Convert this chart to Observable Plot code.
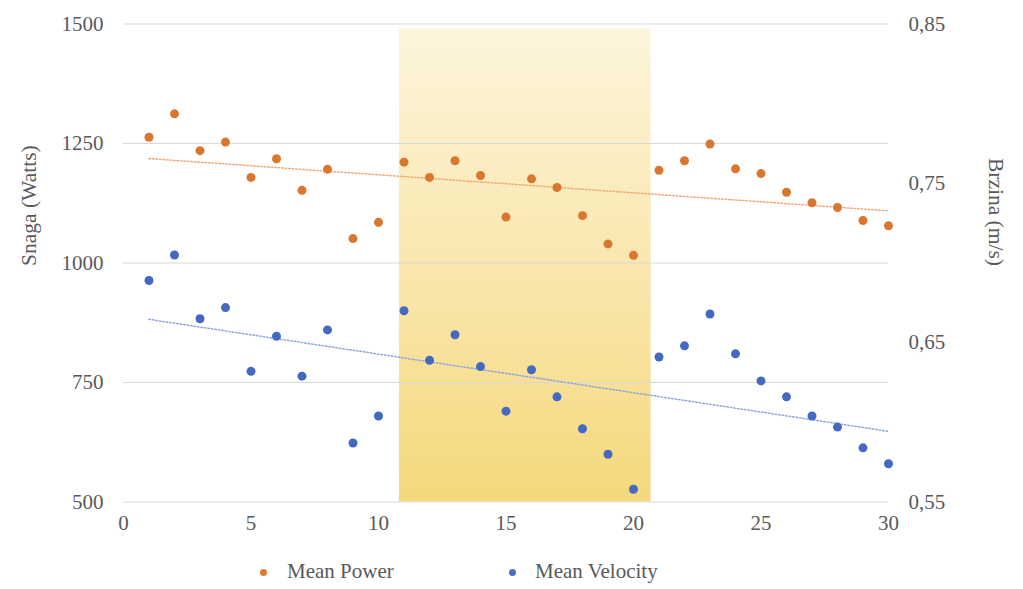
<!DOCTYPE html>
<html>
<head>
<meta charset="utf-8">
<script src="https://cdn.jsdelivr.net/npm/d3@7"></script>
<script src="https://cdn.jsdelivr.net/npm/@observablehq/plot@0.6"></script>
<style>
  html, body { margin: 0; padding: 0; background: #fff; }
  #chart { width: 1023px; }
  .legend { position: relative; width: 1023px; height: 44px; font-family: "Liberation Serif", "DejaVu Serif", serif; font-size: 21px; color: #595959; }
  .legend .dot { position: absolute; width: 7px; height: 7px; border-radius: 50%; top: 23.5px; }
  .legend .lab { position: absolute; top: 14px; line-height: 24px; white-space: nowrap; }
</style>
</head>
<body>
<div id="chart"></div>
<div class="legend">
  <span class="dot" style="left:259.5px;background:#de7b33"></span><span class="lab" style="left:287px">Mean Power</span>
  <span class="dot" style="left:509px;background:#4a6fc4"></span><span class="lab" style="left:535px">Mean Velocity</span>
</div>
<script>
// ---- data ----
const sessions = d3.range(1, 31);
const meanPower = [1263, 1312, 1235, 1253, 1179, 1218, 1152, 1196, 1051, 1085,
                   1211, 1179, 1214, 1183, 1096, 1176, 1158, 1099, 1040, 1016,
                   1194, 1214, 1249, 1197, 1187, 1148, 1126, 1116, 1089, 1078];
const meanVelocity = [0.689, 0.705, 0.665, 0.672, 0.632, 0.654, 0.629, 0.658, 0.587, 0.604,
                      0.670, 0.639, 0.655, 0.635, 0.607, 0.633, 0.616, 0.596, 0.580, 0.558,
                      0.641, 0.648, 0.668, 0.643, 0.626, 0.616, 0.604, 0.597, 0.584, 0.574];
const xTicks = [0, 5, 10, 15, 20, 25, 30];
const powerTicks = [500, 750, 1000, 1250, 1500];
const velocityTicks = [0.55, 0.65, 0.75, 0.85];
const highlight = [{x1: 10.82, x2: 20.69, y1: 500, y2: 1490}];

// map velocity onto the power scale (secondary axis)
const pDom = [500, 1500], vDom = [0.55, 0.85];
const v2p = v => pDom[0] + (v - vDom[0]) / (vDom[1] - vDom[0]) * (pDom[1] - pDom[0]);

const powerData = sessions.map((s, i) => ({x: s, y: meanPower[i]}));
const velData = sessions.map((s, i) => ({x: s, y: v2p(meanVelocity[i])}));

const fmt = v => v.toFixed(2).replace(".", ",");

const chart = Plot.plot({
  width: 1023,
  height: 545,
  marginTop: 23.5,
  marginBottom: 43.5,
  marginLeft: 123,
  marginRight: 135,
  style: {fontFamily: "'Liberation Serif', 'DejaVu Serif', serif", fontSize: "21px", color: "#595959", background: "#fff"},
  x: {domain: [0, 30]},
  y: {domain: pDom},
  marks: [
    Plot.rect(highlight, {x1: "x1", x2: "x2", y1: "y1", y2: "y2", fill: "url(#bandGrad)"}),
    Plot.gridY(powerTicks, {stroke: "#d9d9d9", strokeOpacity: 1, strokeWidth: 1}),
    Plot.linearRegressionY(powerData, {x: "x", y: "y", stroke: "#f2a877", strokeWidth: 1.5, strokeDasharray: "1.5,2", ci: 0}),
    Plot.linearRegressionY(velData, {x: "x", y: "y", stroke: "#8ea6de", strokeWidth: 1.5, strokeDasharray: "1.5,2", ci: 0}),
    Plot.dot(powerData, {x: "x", y: "y", r: 4.5, fill: "#d9772f"}),
    Plot.dot(velData, {x: "x", y: "y", r: 4.5, fill: "#4569c1"}),
    Plot.axisX(xTicks, {tickSize: 0, tickPadding: 13, label: null, fill: "#595959", fontSize: 21}),
    Plot.axisY(powerTicks, {anchor: "left", tickSize: 0, tickPadding: 20, label: null, tickFormat: d => String(d), fill: "#595959", fontSize: 21}),
    Plot.axisY(velocityTicks.map(v2p), {anchor: "right", tickSize: 0, tickPadding: 20, label: null,
      tickFormat: p => fmt(vDom[0] + (p - pDom[0]) / (pDom[1] - pDom[0]) * (vDom[1] - vDom[0])), fill: "#595959", fontSize: 21}),
    Plot.text(["Snaga (Watts)"], {frameAnchor: "left", dx: -94, dy: 3, rotate: -90, fill: "#595959", fontSize: 21.5}),
    Plot.text(["Brzina (m/s)"], {frameAnchor: "right", dx: 107, dy: 3, rotate: 90, fill: "#595959", fontSize: 21.5})
  ]
});

// gradient for the highlighted band
const ns = "http://www.w3.org/2000/svg";
const defs = document.createElementNS(ns, "defs");
defs.innerHTML = '<linearGradient id="bandGrad" x1="0" y1="0" x2="0" y2="1">' +
  '<stop offset="0" stop-color="#fdf5dc"/><stop offset="0.5" stop-color="#f9e7ae"/><stop offset="1" stop-color="#f5d87c"/></linearGradient>';
chart.insertBefore(defs, chart.firstChild);
document.getElementById("chart").appendChild(chart);
</script>
</body>
</html>
